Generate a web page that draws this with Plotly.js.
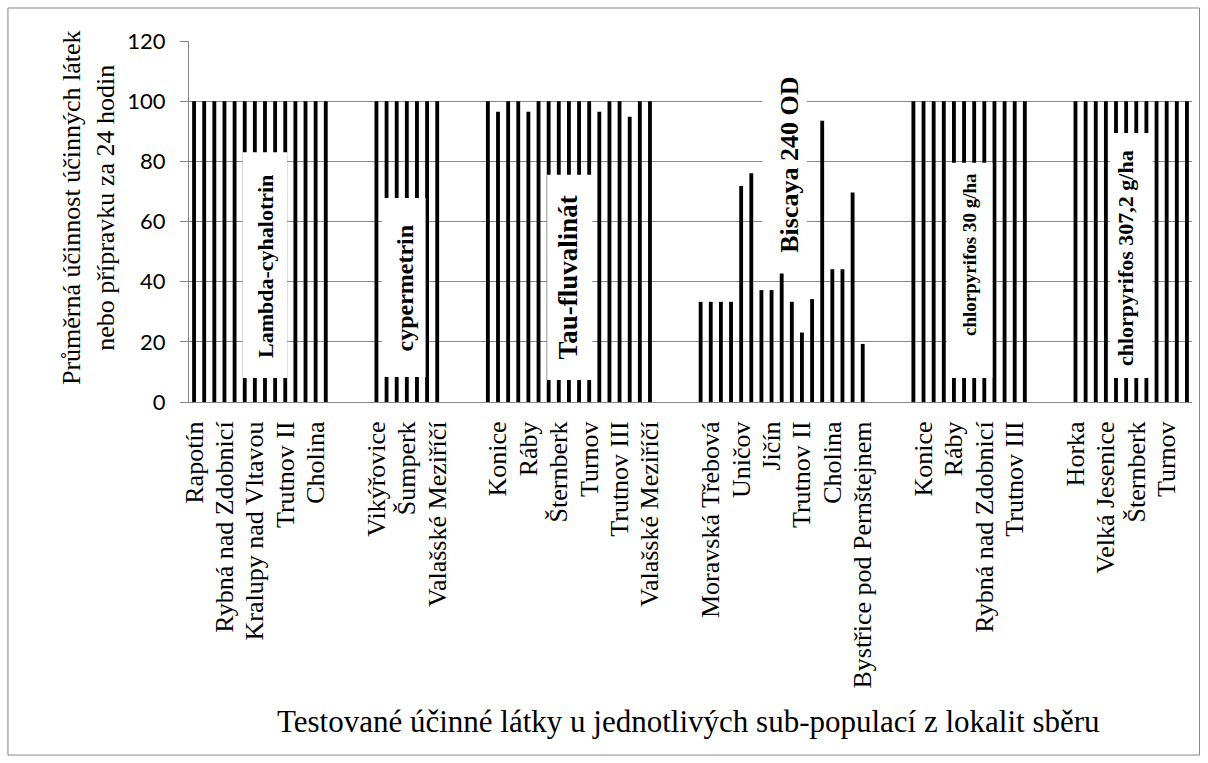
<!DOCTYPE html>
<html>
<head>
<meta charset="utf-8">
<script src="https://cdn.plot.ly/plotly-3.0.1.min.js"></script>
<style>
html,body{margin:0;padding:0;background:#fff;}
#chart{width:1208px;height:763px;}
</style>
</head>
<body>
<div id="chart"></div>
<script>
// ---- data ----
var groupNames = ["Lambda-cyhalotrin", "cypermetrin", "Tau-fluvalinát", "Biscaya 240 OD", "chlorpyrifos 30 g/ha", "chlorpyrifos 307,2 g/ha"];

var lambdaVals = [100,100,100,100,100,100,100,100,100,100,100,100,100,100];
var lambdaLabels = ["Rapotín","","","Rybná nad Zdobnicí","","","Kralupy nad Vltavou","","","Trutnov II","","","Cholina",""];

var cyperVals = [100,100,100,100,100,100,100];
var cyperLabels = ["Vikýřovice","","","Šumperk","","","Valašské Meziříčí"];

var tauVals = [100,96.5,100,100,96.5,100,100,100,100,100,100,96.5,100,100,94.8,100,100];
var tauLabels = ["","Konice","","","Ráby","","","Šternberk","","","Turnov","","","Trutnov III","","","Valašské Meziříčí"];

var biscayaVals = [33.3,33.3,33.3,33.3,71.8,76.0,37.2,37.2,42.7,33.3,23.1,34.2,93.5,44.1,44.1,69.6,19.3];
var biscayaLabels = ["","Moravská Třebová","","","Uničov","","","Jičín","","","Trutnov II","","","Cholina","","","Bystřice pod Pernštejnem"];

var chlor30Vals = [100,100,100,100,100,100,100,100,100,100,100,100];
var chlor30Labels = ["","Konice","","","Ráby","","","Rybná nad Zdobnicí","","","Trutnov III",""];

var chlor307Vals = [100,100,100,100,100,100,100,100,100,100,100,100];
var chlor307Labels = ["Horka","","","Velká Jesenice","","","Šternberk","","","Turnov","",""];

var gapSize = 4;
var yTicks = [0,20,40,60,80,100,120];

// ---- build the category sequence ----
var groups = [
  {vals: lambdaVals, labels: lambdaLabels},
  {vals: cyperVals, labels: cyperLabels},
  {vals: tauVals, labels: tauLabels},
  {vals: biscayaVals, labels: biscayaLabels},
  {vals: chlor30Vals, labels: chlor30Labels},
  {vals: chlor307Vals, labels: chlor307Labels}
];
var xs = [], ys = [], tickvals = [], ticktext = [], groupStart = [];
var idx = 0;
groups.forEach(function(g, gi){
  if (gi > 0) { idx += gapSize; }
  groupStart.push(idx);
  g.vals.forEach(function(v, i){
    xs.push(idx); ys.push(v);
    if (g.labels[i]) { tickvals.push(idx); ticktext.push(g.labels[i]); }
    idx++;
  });
});
var nCat = idx;

// label boxes: positions relative to group start (category units) and value range
var boxes = [
  {g:0, x0:4.8,  x1:9.2,  y0:8,   y1:83,  tx:7.0,  ty:45.2, size:22},
  {g:1, x0:0.55, x1:4.85, y0:8.3, y1:67.8,tx:2.8,  ty:38,   size:24},
  {g:2, x0:5.85, x1:10.3, y0:7.3, y1:75.5,tx:8.0,  ty:41.4, size:27},
  {g:3, x0:6.1,  x1:10.5, y0:46.5,y1:112, tx:8.8,  ty:78.8, size:26},
  {g:4, x0:3.3,  x1:7.8,  y0:8,   y1:79.5,tx:5.6,  ty:48.9, size:19},
  {g:5, x0:3.4,  x1:7.6,  y0:8,   y1:89.4,tx:5.0,  ty:47.9, size:22}
];
var shapes = [], annotations = [];
boxes.forEach(function(b){
  var s = groupStart[b.g];
  shapes.push({type:'rect', xref:'x', yref:'y', x0:s+b.x0, x1:s+b.x1, y0:b.y0, y1:b.y1,
    fillcolor:'#ffffff', line:{width:0}, layer:'above'});
  annotations.push({xref:'x', yref:'y', x:s+b.tx, y:b.ty, textangle:-90, showarrow:false,
    text:'<b>'+groupNames[b.g]+'</b>',
    font:{family:'Liberation Serif, Times New Roman, serif', size:b.size, color:'#000'},
    xanchor:'center', yanchor:'middle'});
});

// axis titles
annotations.push({xref:'paper', yref:'paper', x:-0.1007, y:0.54, textangle:-90, showarrow:false,
  text:'Průměrná účinnost účinných látek<br>nebo přípravku za 24 hodin',
  font:{family:'Liberation Serif, Times New Roman, serif', size:26, color:'#000'},
  xanchor:'center', yanchor:'middle'});
annotations.push({xref:'paper', yref:'paper', x:0.4985, y:-0.886, showarrow:false,
  text:'Testované účinné látky u jednotlivých sub-populací z lokalit sběru',
  font:{family:'Liberation Serif, Times New Roman, serif', size:31, color:'#000'},
  xanchor:'center', yanchor:'middle'});

// outer chart border
shapes.push({type:'rect', xref:'paper', yref:'paper', x0:-0.1805, x1:1.0075, y0:-0.978, y1:1.0914,
  fillcolor:'rgba(0,0,0,0)', line:{color:'#878787', width:1}, layer:'below'});

var trace = {
  type:'bar', x:xs, y:ys, width:0.38,
  marker:{color:'#000000', line:{width:0}},
  hoverinfo:'skip'
};

var layout = {
  width:1208, height:763, autosize:false,
  margin:{l:189, r:16, t:41, b:361, pad:0},
  paper_bgcolor:'#ffffff', plot_bgcolor:'#ffffff',
  showlegend:false,
  xaxis:{
    type:'linear', range:[-0.5, nCat-0.5], fixedrange:true,
    showgrid:false, zeroline:false, showline:true, linecolor:'#878787', linewidth:1,
    tickmode:'array', tickvals:tickvals, ticktext:ticktext, tickangle:-90,
    ticks:'', ticklabelstandoff:8, automargin:false,
    tickfont:{family:'Liberation Serif, Times New Roman, serif', size:26, color:'#000'}
  },
  yaxis:{
    range:[0,120], tickmode:'array', tickvals:yTicks, fixedrange:true,
    showgrid:true, gridcolor:'#878787', gridwidth:1, zeroline:false,
    showline:true, linecolor:'#878787', linewidth:1,
    ticks:'outside', ticklen:8, tickcolor:'#878787', ticklabelstandoff:10, automargin:false,
    tickfont:{family:'Lato, Carlito, Calibri, sans-serif', size:22, color:'#000'}
  },
  shapes:shapes,
  annotations:annotations
};

Plotly.newPlot('chart', [trace], layout, {displayModeBar:false, staticPlot:true});
</script>
</body>
</html>
